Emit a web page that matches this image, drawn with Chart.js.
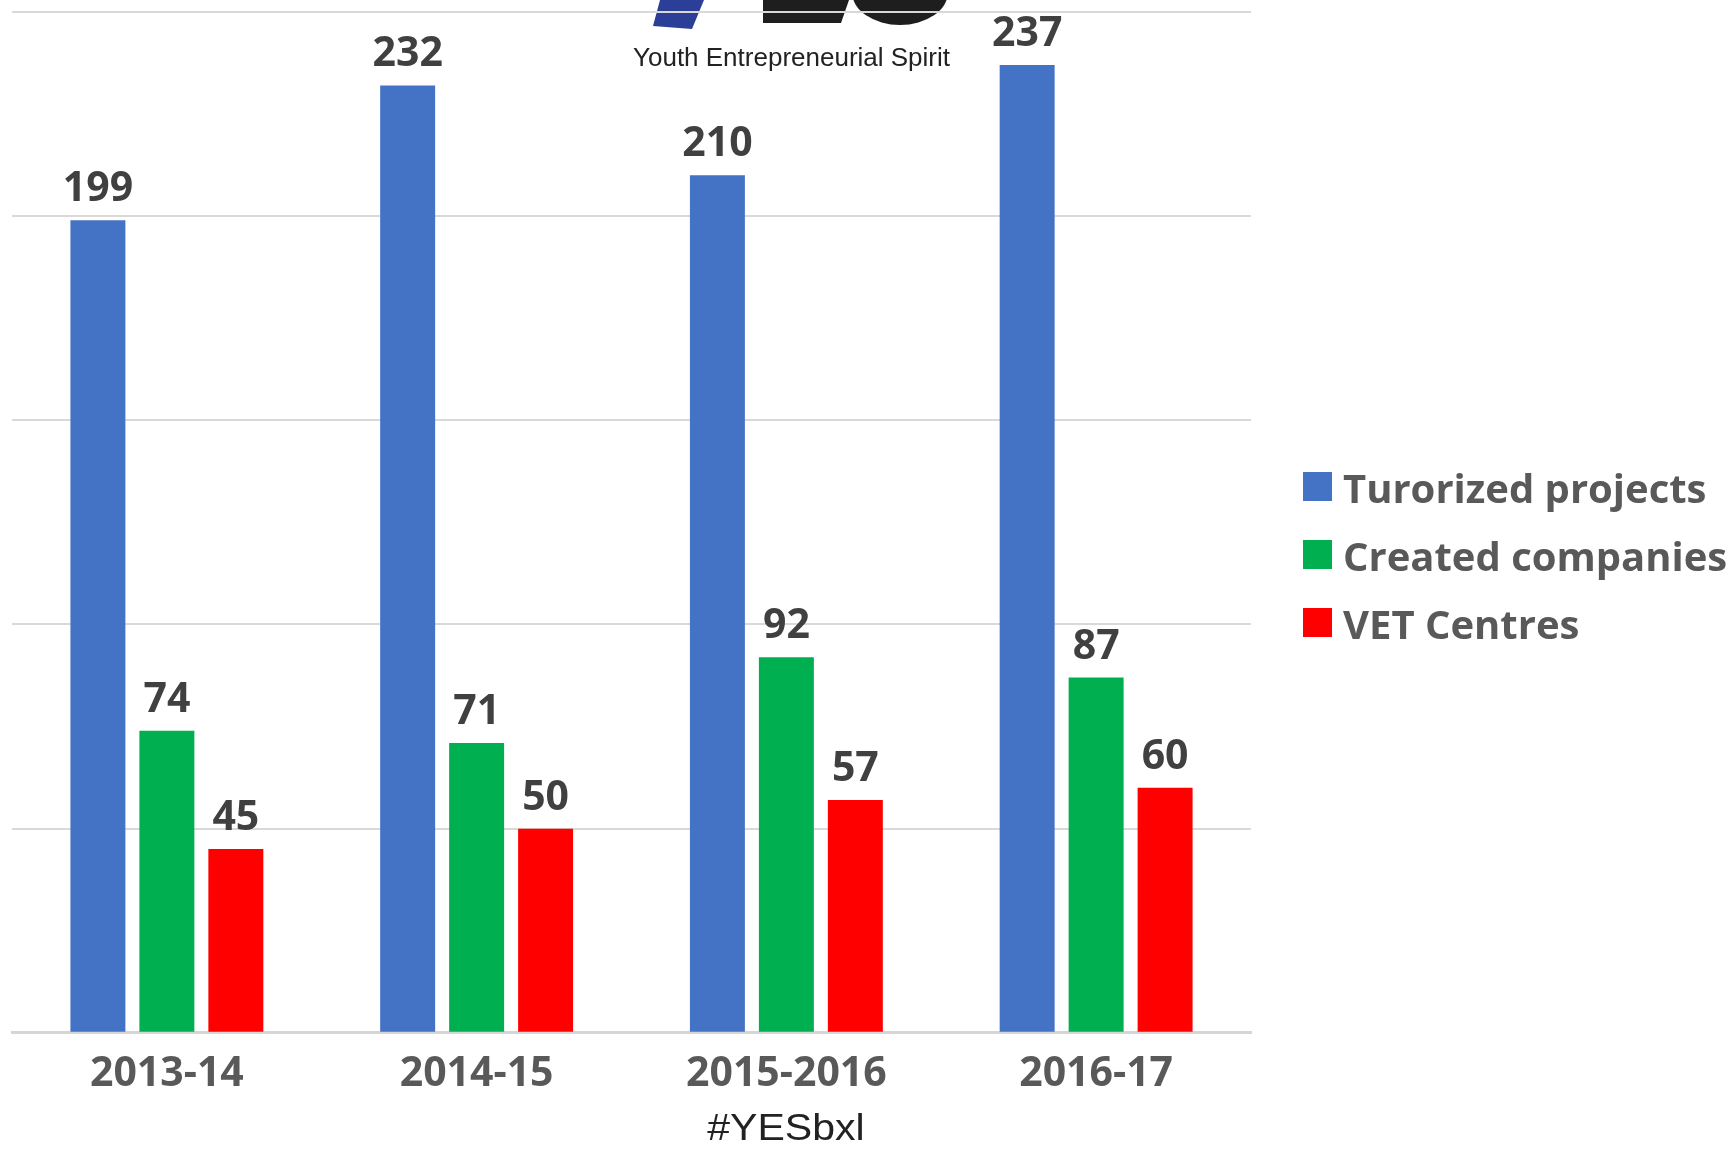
<!DOCTYPE html>
<html>
<head>
<meta charset="utf-8">
<title>YES - results per year</title>
<script src="https://cdn.jsdelivr.net/npm/chart.js@4.4.1/dist/chart.umd.min.js"></script>
<style>
    html, body { margin: 0; padding: 0; background: #ffffff; }
    #myChart { display: block; }
</style>
</head>
<body>
<canvas id="myChart" width="1731" height="1150"></canvas>
<script>
// data
var years = ['2013-14', '2014-15', '2015-2016', '2016-17'];
var tutoredProjects = [199, 232, 210, 237];
var createdCompanies = [74, 71, 92, 87];
var vetCentres = [45, 50, 57, 60];
var seriesNames = ['Turorized projects', 'Created companies', 'VET Centres'];
var seriesColors = ['#4472C4', '#00B050', '#FF0000'];

var FONT = '"Open Sans", "DejaVu Sans", sans-serif';

/* logo + hashtag (the picture is cut off at the top) */
var logoPlugin = {
    id: 'logo',
    beforeDraw: function(chart){
        var ctx = chart.ctx;
        ctx.save();
        // blue slash
        ctx.fillStyle = '#2B3F98';
        ctx.beginPath();
        ctx.moveTo(660, 0);
        ctx.lineTo(704, 0);
        ctx.lineTo(692, 29);
        ctx.lineTo(653, 26);
        ctx.closePath();
        ctx.fill();
        // bottom of the E
        ctx.fillStyle = '#1e1e1e';
        ctx.beginPath();
        ctx.moveTo(763, 0);
        ctx.lineTo(849, 0);
        ctx.lineTo(841, 23);
        ctx.lineTo(763, 23);
        ctx.closePath();
        ctx.fill();
        // bottom of the S
        ctx.beginPath();
        ctx.ellipse(900, -8, 48, 33, 0, 0, Math.PI);
        ctx.fill();
        ctx.fillStyle = '#222222';
        ctx.font = '26px "Liberation Sans", Arial, sans-serif';
        ctx.textAlign = 'left';
        ctx.textBaseline = 'alphabetic';
        ctx.fillText('Youth Entrepreneurial Spirit', 633, 66);
        ctx.restore();
    },
    afterDraw: function(chart){
        var ctx = chart.ctx;
        ctx.save();
        ctx.fillStyle = '#222222';
        ctx.font = '36px "Liberation Sans", Arial, sans-serif';
        ctx.textAlign = 'center';
        ctx.textBaseline = 'alphabetic';
        ctx.translate(786, 1140);
        ctx.scale(1.14, 1);
        ctx.fillText('#YESbxl', 0, 0);
        ctx.restore();
    }
};

/* value above every bar */
var valueLabels = {
    id: 'valueLabels',
    afterDatasetsDraw: function(chart){
        var ctx = chart.ctx;
        ctx.save();
        ctx.fillStyle = '#404040';
        ctx.font = 'bold 41px ' + FONT;
        ctx.textAlign = 'center';
        ctx.textBaseline = 'alphabetic';
        chart.data.datasets.forEach(function(ds, i){
            chart.getDatasetMeta(i).data.forEach(function(bar, j){
                ctx.fillText(ds.data[j], bar.x, bar.y - 19);
            });
        });
        ctx.restore();
    }
};

/* legend on the right */
var sideLegend = {
    id: 'sideLegend',
    afterDraw: function(chart){
        var ctx = chart.ctx;
        ctx.save();
        ctx.font = 'bold 40px ' + FONT;
        ctx.textAlign = 'left';
        ctx.textBaseline = 'alphabetic';
        chart.data.datasets.forEach(function(ds, i){
            var top = 472 + i * 68;
            ctx.fillStyle = ds.backgroundColor;
            ctx.fillRect(1303, top, 29, 29);
            ctx.fillStyle = '#595959';
            ctx.fillText(ds.label, 1343, top + 31);
        });
        ctx.restore();
    }
};

var ctx = document.getElementById('myChart');
var myBarChart = new Chart(ctx, {
    type: 'bar',
    data: {
        labels: years,
        datasets: [
            { label: seriesNames[0], data: tutoredProjects, backgroundColor: seriesColors[0] },
            { label: seriesNames[1], data: createdCompanies, backgroundColor: seriesColors[1] },
            { label: seriesNames[2], data: vetCentres, backgroundColor: seriesColors[2] }
        ]
    },
    options: {
        responsive: false,
        devicePixelRatio: 1,
        animation: false,
        barPercentage: 0.797,
        categoryPercentage: 0.668,
        layout: {
            padding: { left: 12, right: 480, top: 12, bottom: 42 }
        },
        plugins: {
            legend: { display: false },
            tooltip: { enabled: false }
        },
        scales: {
            x: {
                grid: { display: false },
                border: { display: true, color: '#d6d6d6', width: 3 },
                ticks: {
                    color: '#595959',
                    padding: 9,
                    maxRotation: 0,
                    font: { family: FONT, size: 41, weight: 'bold' }
                }
            },
            y: {
                min: 0,
                max: 250,
                ticks: { display: false, stepSize: 50 },
                border: { display: false },
                grid: { color: '#d9d9d9', lineWidth: 2, drawTicks: false }
            }
        }
    },
    plugins: [logoPlugin, valueLabels, sideLegend]
});
</script>
</body>
</html>
